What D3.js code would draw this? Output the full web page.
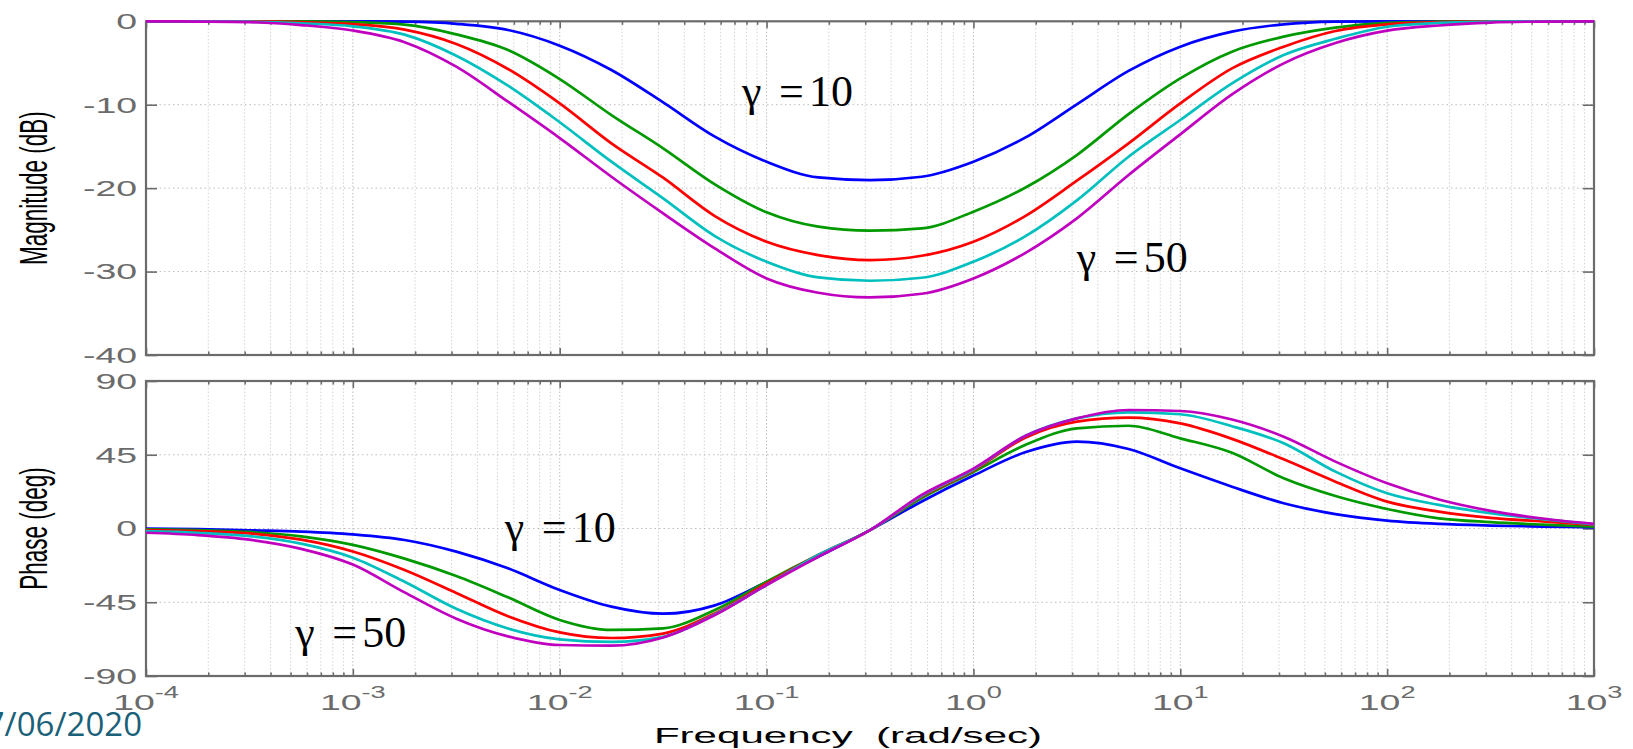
<!DOCTYPE html>
<html>
<head>
<meta charset="utf-8">
<script src="https://cdn.jsdelivr.net/npm/d3@7"></script>
<style>
  html, body { margin: 0; padding: 0; background: #ffffff; }
  svg { display: block; }
</style>
</head>
<body>
<svg id="chart" width="1633" height="749"></svg>
<script>
// ---------------- DATA ----------------
const frequencies = [1e-4, 1.778e-4, 3.162e-4, 5.623e-4, 1e-3, 1.778e-3, 3.162e-3, 5.623e-3,
  1e-2, 1.778e-2, 3.162e-2, 5.623e-2, 0.1, 0.1778, 0.3162, 0.5623, 1, 1.778, 3.162, 5.623,
  10, 17.78, 31.62, 56.23, 100, 177.8, 316.2, 562.3, 1000];

const magBlue    = [0, 0, 0, 0, 0, -0.05, -0.3, -1.04, -2.92, -5.84, -9.72, -13.83, -16.83, -18.71, -19.03, -18.63, -16.83, -13.95, -9.95, -5.95, -3.04, -1.24, -0.36, -0.05, 0, 0, 0, 0, 0];
const magGreen   = [0, 0, 0, 0, -0.1, -0.4, -1.56, -3.44, -6.92, -11.24, -15.23, -19.55, -22.9, -24.62, -25.1, -24.82, -22.82, -19.95, -16.03, -11.12, -6.84, -3.64, -1.84, -0.76, -0.2, -0.05, 0, 0, 0];
const magRed     = [0, 0, 0, -0.1, -0.35, -1.0, -2.72, -5.72, -9.84, -14.63, -18.75, -23.35, -26.42, -28.02, -28.62, -28.1, -26.42, -23.35, -19.11, -14.63, -9.84, -5.64, -3.04, -1.16, -0.36, -0.1, 0, 0, 0];
const magCyan    = [0, 0, -0.05, -0.24, -0.6, -1.6, -4.12, -7.72, -12.1, -16.83, -21.22, -25.74, -28.82, -30.7, -31.1, -30.74, -28.82, -25.78, -21.46, -16.23, -11.83, -7.44, -4.04, -2.1, -0.65, -0.2, -0.05, 0, 0];
const magMagenta = [0, -0.03, -0.1, -0.45, -1.1, -2.5, -5.44, -9.64, -14.0, -18.63, -23.02, -27.22, -30.82, -32.54, -33.1, -32.66, -30.82, -27.78, -23.62, -18.43, -13.55, -8.76, -5.04, -2.6, -1.12, -0.5, -0.15, -0.03, 0];

const phaseBlue    = [0, -0.3, -1.1, -1.9, -3.6, -7, -14.1, -24.3, -37.5, -47.7, -52, -46.9, -32.6, -17.3, -1.0, 16.5, 32.3, 46.5, 53, 48.5, 36.7, 25.5, 15.4, 8.8, 4.8, 2.8, 1.8, 1.2, 0.6];
const phaseGreen   = [-0.5, -0.9, -2.1, -4.8, -10, -18.4, -29, -42, -55.8, -61.9, -60.9, -49.7, -32.4, -16.2, -1.0, 18.5, 34.5, 50.9, 61.1, 62.7, 55, 46.2, 30.6, 19.8, 11.9, 6.2, 3.9, 2.4, 1.2];
const phaseRed     = [-1.0, -1.6, -3.0, -6.8, -14, -25.3, -39.3, -53.5, -63.4, -66.8, -64.1, -51.8, -33.5, -16.2, -1.0, 19.5, 35.4, 55.4, 65.2, 67.6, 64.1, 54.7, 42.2, 28.6, 16.4, 10.3, 6.5, 4.3, 2.2];
const phaseCyan    = [-1.6, -2.6, -4.6, -9.2, -17.8, -32.5, -49, -61, -67.6, -69.2, -66.1, -52.4, -34.5, -16.2, -1.0, 20, 36.0, 56.4, 67.2, 70.9, 69.7, 62.4, 52, 34.7, 21.5, 14.4, 9.3, 5.7, 2.5];
const phaseMagenta = [-2.6, -4.0, -6.8, -12.4, -22, -39, -55, -65.8, -71.1, -71.5, -66.5, -52.8, -34.5, -17.2, -1.0, 20.5, 36.5, 56.4, 67.2, 72.3, 71.7, 66.5, 56, 40.8, 27.6, 17.7, 10.8, 6.1, 2.8];

const lineColors = ["#0000ff", "#009900", "#ff0000", "#00bfbf", "#bf00bf"];
const magSeries = [magBlue, magGreen, magRed, magCyan, magMagenta];
const phaseSeries = [phaseBlue, phaseGreen, phaseRed, phaseCyan, phaseMagenta];

const magTicks = [0, -10, -20, -30, -40];
const magTickLabels = ["0", "-10", "-20", "-30", "-40"];
const phaseTicks = [90, 45, 0, -45, -90];
const phaseTickLabels = ["90", "45", "0", "-45", "-90"];
const decadeExponents = [-4, -3, -2, -1, 0, 1, 2, 3];
const decadeLabels = ["-4", "-3", "-2", "-1", "0", "1", "2", "3"];

const magLabel = "Magnitude (dB)";
const phaseLabel = "Phase (deg)";
const freqLabel = "Frequency  (rad/sec)";
const dateText = "17/06/2020";

// annotations: gamma labels (data coordinates of text start / baseline)
const gammaNotes = [
  { panel: "mag",   value: "10", f: 0.0760,  v: -10.2 },
  { panel: "mag",   value: "50", f: 3.155,   v: -30.0 },
  { panel: "phase", value: "10", f: 0.00543, v: -8.0 },
  { panel: "phase", value: "50", f: 0.000527, v: -72.1 }
];

// ---------------- LAYOUT ----------------
const svg = d3.select("#chart");
const xLeft = 146, xRight = 1594;
const magTop = 21.3, magBottom = 355;
const phTop = 381, phBottom = 676;
const SX = 1.7;               // horizontal stretch of MATLAB text
const tickColor = "#6b6b6b";
const labelGray = "#6b6b6b";

const x = d3.scaleLog().domain([1e-4, 1e3]).range([xLeft, xRight]);
const yMag = d3.scaleLinear().domain([-40, 0]).range([magBottom, magTop]);
const yPh = d3.scaleLinear().domain([-90, 90]).range([phBottom, phTop]);

const majorFreqs = decadeExponents.map(e => Math.pow(10, e));
const minorFreqs = [];
decadeExponents.slice(0, -1).forEach(e => {
  for (let m = 2; m <= 9; m++) minorFreqs.push(m * Math.pow(10, e));
});

function drawPanel(y, yTicks, yTickLabels, series) {
  const [yB, yT] = y.range();
  const g = svg.append("g");

  // minor vertical grid
  g.selectAll("line.gminor").data(minorFreqs).enter().append("line")
    .attr("x1", d => x(d)).attr("x2", d => x(d)).attr("y1", yT).attr("y2", yB)
    .attr("stroke", "#d4d4d4").attr("stroke-width", 1).attr("stroke-dasharray", "1.5,2");
  // major vertical grid
  g.selectAll("line.gmajor").data(majorFreqs.slice(1, -1)).enter().append("line")
    .attr("x1", d => x(d)).attr("x2", d => x(d)).attr("y1", yT).attr("y2", yB)
    .attr("stroke", "#bdbdbd").attr("stroke-width", 1).attr("stroke-dasharray", "1.5,2");
  // horizontal grid
  g.selectAll("line.gh").data(yTicks.slice(1, -1)).enter().append("line")
    .attr("x1", xLeft).attr("x2", xRight).attr("y1", d => y(d)).attr("y2", d => y(d))
    .attr("stroke", "#bdbdbd").attr("stroke-width", 1).attr("stroke-dasharray", "1.5,3");

  // axes ticks (inward)
  const styleAxis = sel => {
    sel.select(".domain").remove();
    sel.selectAll(".tick line").attr("stroke", tickColor).attr("stroke-width", 1.6);
    sel.selectAll(".tick text").remove();
  };
  g.append("g").attr("transform", `translate(0,${yB})`)
    .call(d3.axisBottom(x).tickValues(majorFreqs).tickSize(-7).tickFormat(""))
    .call(styleAxis);
  g.append("g").attr("transform", `translate(0,${yB})`)
    .call(d3.axisBottom(x).tickValues(minorFreqs).tickSize(-3.5).tickFormat(""))
    .call(styleAxis);
  g.append("g").attr("transform", `translate(0,${yT})`)
    .call(d3.axisTop(x).tickValues(majorFreqs).tickSize(-7).tickFormat(""))
    .call(styleAxis);
  g.append("g").attr("transform", `translate(0,${yT})`)
    .call(d3.axisTop(x).tickValues(minorFreqs).tickSize(-3.5).tickFormat(""))
    .call(styleAxis);
  g.append("g").attr("transform", `translate(${xLeft},0)`)
    .call(d3.axisLeft(y).tickValues(yTicks).tickSize(-11).tickFormat(""))
    .call(styleAxis);
  g.append("g").attr("transform", `translate(${xRight},0)`)
    .call(d3.axisRight(y).tickValues(yTicks).tickSize(-11).tickFormat(""))
    .call(styleAxis);

  // frame
  g.append("rect").attr("x", xLeft).attr("y", yT)
    .attr("width", xRight - xLeft).attr("height", yB - yT)
    .attr("fill", "none").attr("stroke", tickColor).attr("stroke-width", 2.2);

  // y tick labels (stretched Helvetica-like)
  yTicks.forEach((t, i) => {
    g.append("g").attr("transform", `translate(137,${y(t)}) scale(${SX},1)`)
      .append("text")
      .attr("text-anchor", "end").attr("dy", "0.36em")
      .attr("font-family", "Liberation Sans, Arial, Helvetica, sans-serif")
      .attr("font-size", 22).attr("fill", labelGray)
      .text(yTickLabels[i]);
  });

  // curves
  const line = d3.line()
    .x((d, i) => x(frequencies[i]))
    .y(d => y(d))
    .curve(d3.curveMonotoneX);
  series.forEach((s, k) => {
    g.append("path").datum(s)
      .attr("d", line)
      .attr("fill", "none")
      .attr("stroke", lineColors[k])
      .attr("stroke-width", 2.7)
      .attr("stroke-linejoin", "round");
  });
  return g;
}

drawPanel(yMag, magTicks, magTickLabels, magSeries);
drawPanel(yPh, phaseTicks, phaseTickLabels, phaseSeries);

// x tick labels with superscripts (under bottom panel)
decadeExponents.forEach((e, i) => {
  const t = svg.append("g")
    .attr("transform", `translate(${x(Math.pow(10, e))},710) scale(${SX},1)`)
    .append("text")
    .attr("text-anchor", "middle")
    .attr("font-family", "Liberation Sans, Arial, Helvetica, sans-serif")
    .attr("fill", labelGray)
    .attr("font-size", 22);
  t.append("tspan").text("10");
  t.append("tspan").attr("dy", -12).attr("font-size", 16).text(decadeLabels[i]);
});

// axis titles
function rotatedLabel(txt, cx, cy) {
  svg.append("g")
    .attr("transform", `translate(${cx},${cy}) scale(${SX},1) rotate(-90)`)
    .append("text")
    .attr("text-anchor", "middle")
    .attr("font-family", "Liberation Sans, Arial, Helvetica, sans-serif")
    .attr("font-size", 22.5).attr("fill", "#000")
    .text(txt);
}
rotatedLabel(magLabel, 47, (magTop + magBottom) / 2);
rotatedLabel(phaseLabel, 47, (phTop + phBottom) / 2);

svg.append("g")
  .attr("transform", `translate(${(xLeft + xRight) / 2 - 22},743) scale(1.83,1)`)
  .append("text")
  .attr("text-anchor", "middle")
  .attr("xml:space", "preserve")
  .attr("font-family", "Liberation Sans, Arial, Helvetica, sans-serif")
  .attr("font-size", 23).attr("fill", "#000")
  .text(freqLabel);

// gamma annotations
gammaNotes.forEach(n => {
  const yy = n.panel === "mag" ? yMag(n.v) : yPh(n.v);
  const x0 = x(n.f);
  const t = svg.append("text")
    .attr("font-family", "Liberation Serif, Times New Roman, serif")
    .attr("font-size", 44).attr("fill", "#000")
    .attr("y", yy);
  t.append("tspan").attr("x", x0).text("γ");
  t.append("tspan").attr("x", x0 + 37).text("=");
  t.append("tspan").attr("x", x0 + 67).text(n.value);
});

// date footer (cut at left edge)
svg.append("text")
  .attr("x", 142).attr("y", 736)
  .attr("text-anchor", "end")
  .attr("font-family", "Open Sans, Noto Sans, sans-serif")
  .attr("font-size", 33).attr("fill", "#1a6079")
  .text(dateText);
</script>
</body>
</html>
